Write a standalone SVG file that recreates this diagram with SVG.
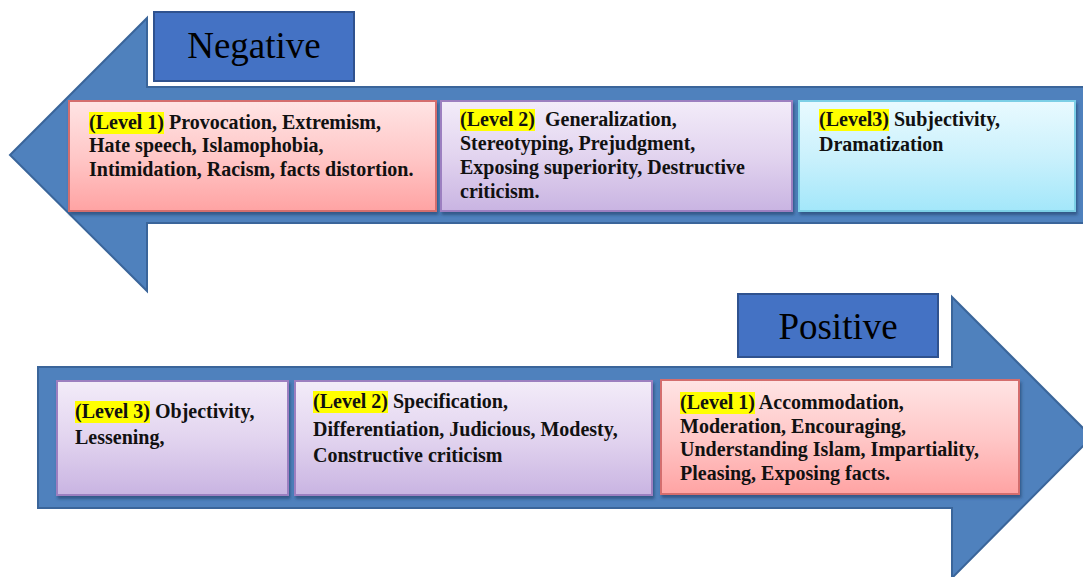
<svg xmlns="http://www.w3.org/2000/svg" width="1083" height="577" viewBox="0 0 1083 577">
<style>
  .arrow{fill:#4F81BD;stroke:#3A659A;stroke-width:2}
  .title{fill:#4472C4;stroke:#2F528F;stroke-width:2}
  .ttl{font-family:"Liberation Serif","Times New Roman",serif;font-size:37px;fill:#000;text-anchor:middle}
  .t{font-family:"Liberation Serif","Times New Roman",serif;font-size:20px;font-weight:bold;fill:#111}
  .hl{fill:#FFFF00}
  .pink{fill:url(#gPink);stroke:#D46E6E;stroke-width:2}
  .lav{fill:url(#gLav);stroke:#9C7FC0;stroke-width:2}
  .cyan{fill:url(#gCyan);stroke:#7CCFE6;stroke-width:2}
  .box{filter:url(#sh)}
</style>
<defs>
  <linearGradient id="gPink" x1="0" y1="0" x2="0" y2="1">
    <stop offset="0" stop-color="#FFE4E4"/><stop offset="0.5" stop-color="#FFC8C8"/><stop offset="1" stop-color="#FFA3A3"/>
  </linearGradient>
  <linearGradient id="gLav" x1="0" y1="0" x2="0" y2="1">
    <stop offset="0" stop-color="#F3ECF9"/><stop offset="0.5" stop-color="#E2D4EF"/><stop offset="1" stop-color="#C9B4E2"/>
  </linearGradient>
  <linearGradient id="gCyan" x1="0" y1="0" x2="0" y2="1">
    <stop offset="0" stop-color="#E9FAFF"/><stop offset="0.5" stop-color="#CBF1FC"/><stop offset="1" stop-color="#A3E7FA"/>
  </linearGradient>
  <filter id="sh" x="-5%" y="-10%" width="110%" height="130%">
    <feDropShadow dx="1.5" dy="3" stdDeviation="1.8" flood-color="#1E3A66" flood-opacity="0.6"/>
  </filter>
</defs>
<rect width="1083" height="577" fill="#FFFFFF"/>

<g id="arrows">
  <path id="arrow-negative" class="arrow" d="M10,155 L147,18 L147,87 L1084,87 L1084,223 L147,223 L147,291 Z"/>
  <path id="arrow-positive" class="arrow" d="M38,367 L952,367 L952,297 L1092,437 L952,578 L952,508 L38,508 Z"/>
</g>
<g id="connectors"></g>

<g id="negative-title">
  <rect class="title" x="154" y="12" width="200" height="69"/>
  <text class="ttl" x="254" y="58">Negative</text>
</g>
<g id="positive-title">
  <rect class="title" x="738" y="294" width="200" height="63"/>
  <text class="ttl" x="838" y="339">Positive</text>
</g>

<g id="neg-level1">
  <rect class="pink box" x="69" y="101" width="367" height="110"/>
  <rect class="hl" x="89" y="112" width="75" height="22"/>
  <text class="t" x="89" y="129">(Level 1) Provocation, Extremism,</text>
  <text class="t" x="89" y="152">Hate speech, Islamophobia,</text>
  <text class="t" x="89" y="176">Intimidation, Racism, facts distortion.</text>
</g>
<g id="neg-level2">
  <rect class="lav box" x="441" y="101" width="351" height="110"/>
  <rect class="hl" x="460" y="109" width="75" height="22"/>
  <text class="t" x="460" y="126">(Level 2)<tspan dx="5"> Generalization,</tspan></text>
  <text class="t" x="460" y="150">Stereotyping, Prejudgment,</text>
  <text class="t" x="460" y="174">Exposing superiority, Destructive</text>
  <text class="t" x="460" y="198">criticism.</text>
</g>
<g id="neg-level3">
  <rect class="cyan box" x="799" y="101" width="276" height="110"/>
  <rect class="hl" x="819" y="109" width="70" height="22"/>
  <text class="t" x="819" y="126">(Level3) Subjectivity,</text>
  <text class="t" x="819" y="151">Dramatization</text>
</g>

<g id="pos-level3">
  <rect class="lav box" x="57" y="381" width="231" height="114"/>
  <rect class="hl" x="75" y="401" width="75" height="22"/>
  <text class="t" x="75" y="418">(Level 3) Objectivity,</text>
  <text class="t" x="75" y="444">Lessening,</text>
</g>
<g id="pos-level2">
  <rect class="lav box" x="295" y="381" width="357" height="114"/>
  <rect class="hl" x="313" y="391" width="75" height="22"/>
  <text class="t" x="313" y="408">(Level 2) Specification,</text>
  <text class="t" x="313" y="436">Differentiation, Judicious, Modesty,</text>
  <text class="t" x="313" y="462">Constructive criticism</text>
</g>
<g id="pos-level1">
  <rect class="pink box" x="661" y="380" width="358" height="114"/>
  <rect class="hl" x="680" y="392" width="75" height="22"/>
  <text class="t" x="680" y="409">(Level 1) Accommodation,</text>
  <text class="t" x="680" y="433">Moderation, Encouraging,</text>
  <text class="t" x="680" y="456">Understanding Islam, Impartiality,</text>
  <text class="t" x="680" y="480">Pleasing, Exposing facts.</text>
</g>
</svg>
